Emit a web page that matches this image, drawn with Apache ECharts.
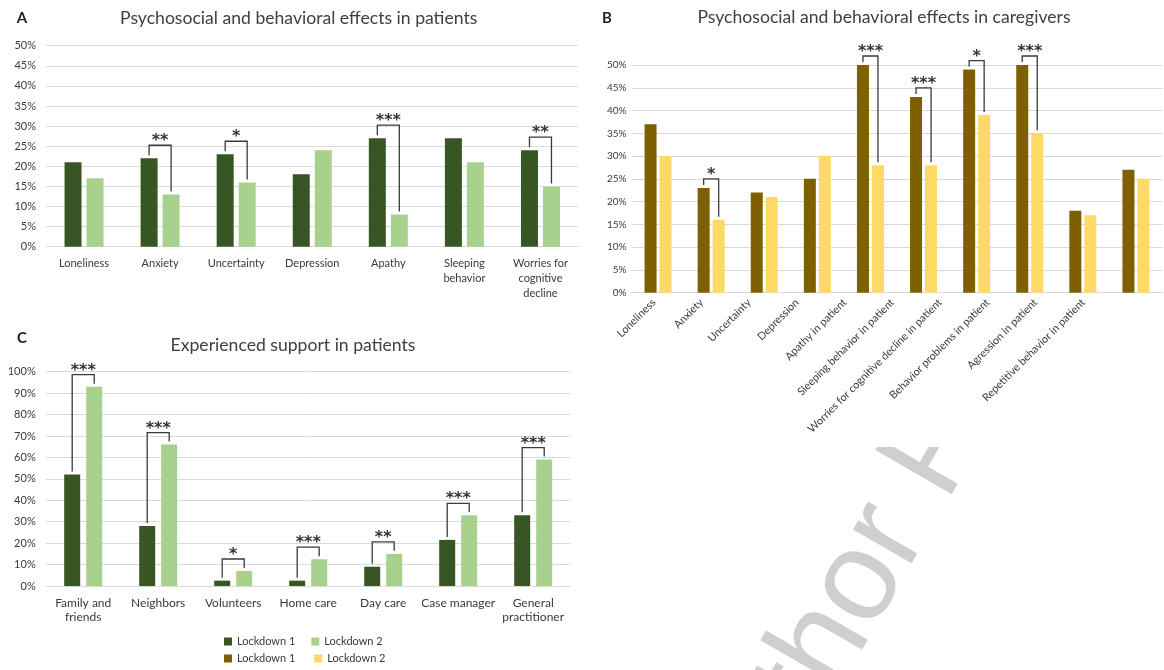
<!DOCTYPE html>
<html>
<head>
<meta charset="utf-8">
<title>Psychosocial effects of lockdown</title>
<script src="https://cdn.jsdelivr.net/npm/echarts@6/dist/echarts.min.js"></script>
<style>
    html, body { margin: 0; padding: 0; background: #fff; }
    #chart { width: 1164px; height: 670px; }
</style>
</head>
<body>
<div id="chart"></div>
<script>
    // panel A - patients
    var catsA = ['Loneliness', 'Anxiety', 'Uncertainty', 'Depression', 'Apathy', 'Sleeping\nbehavior', 'Worries for\ncognitive\ndecline'];
    var a1 = [21, 22, 23, 18, 27, 27, 24];
    var a2 = [17, 13, 16, 24, 8, 21, 15];
    var sigA = ['', '**', '*', '', '***', '', '**'];

    // panel B - caregivers
    var catsB = ['Loneliness', 'Anxiety', 'Uncertainty', 'Depression', 'Apathy in patient', 'Sleeping behavior in patient',
        'Worries for cognitive decline in patient', 'Behavior problems in patient', 'Agression in patient', 'Repetitive behavior in patient'];
    var b1 = [37, 23, 22, 25, 50, 43, 49, 50, 18, 27];
    var b2 = [30, 16, 21, 30, 28, 28, 39, 35, 17, 25];
    var sigB = ['', '*', '', '', '***', '***', '*', '***', '', ''];

    // panel C - support
    var catsC = ['Family and\nfriends', 'Neighbors', 'Volunteers', 'Home care', 'Day care', 'Case manager', 'General\npractitioner'];
    var c1 = [52, 28, 2.5, 2.5, 9, 21.5, 33];
    var c2 = [93, 66, 7, 12.5, 15, 33, 59];
    var sigC = ['***', '***', '*', '***', '**', '***', '***'];

    var titles = ['Psychosocial and behavioral effects in patients', 'Psychosocial and behavioral effects in caregivers', 'Experienced support in patients'];
    var legendNames = ['Lockdown 1', 'Lockdown 2'];

    var FONT = 'Lato, "Open Sans", sans-serif';
    var TXT = '#3a3a3a';
    var GRID = '#d9d9d9';

    function yAxis(idx, max, step, fs, margin) {
        return {
            type: 'value', gridIndex: idx, min: 0, max: max, interval: step,
            axisLine: {show: false}, axisTick: {show: false},
            splitLine: {lineStyle: {color: GRID, width: 1}},
            axisLabel: {formatter: '{value}%', color: TXT, fontSize: fs, fontFamily: FONT, margin: margin}
        };
    }

    function xAxis(idx, cats, label) {
        return {
            type: 'category', gridIndex: idx, data: cats,
            axisLine: {lineStyle: {color: GRID}}, axisTick: {show: false},
            axisLabel: Object.assign({interval: 0, color: TXT, fontFamily: FONT}, label)
        };
    }

    function bars(idx, name, data, color, w, gap) {
        return {
            type: 'bar', name: name, xAxisIndex: idx, yAxisIndex: idx, data: data,
            barWidth: w, barGap: (gap / w * 100) + '%', itemStyle: {color: color}, silent: true
        };
    }

    // significance bracket drawn above each pair that has stars
    function brackets(idx, v1, v2, sig, w, gap, lift) {
        var data = [];
        sig.forEach(function (s, i) {
            if (s) data.push([i, v1[i], v2[i]]);
        });
        return {
            type: 'custom', xAxisIndex: idx, yAxisIndex: idx, data: data, clip: false, silent: true, z: 5,
            encode: {x: 0, y: [1, 2]},
            renderItem: function (params, api) {
                var i = api.value(0);
                var cx = api.coord([i, 0])[0];
                var half = (w + gap) / 2;
                var yl = api.coord([i, api.value(1)])[1];
                var yr = api.coord([i, api.value(2)])[1];
                var yb = Math.min(yl, yr) - lift;
                return {
                    type: 'group', children: [
                        {
                            type: 'polyline',
                            shape: {points: [[cx - half, yl - 3], [cx - half, yb], [cx + half, yb], [cx + half, yr - 3]]},
                            style: {stroke: '#3a3a3a', lineWidth: 1.3, fill: 'none'}
                        },
                        {
                            type: 'text', x: cx, y: yb + 4,
                            style: {text: sig[i], fill: '#333', font: 'bold 16px "DejaVu Sans"', align: 'center', verticalAlign: 'bottom'}
                        }
                    ]
                };
            }
        };
    }

    var myChart = echarts.init(document.getElementById('chart'));
    var option = {
        animation: false,
        grid: [
            {left: 46, right: 585.5, top: 45.7, bottom: 423.3},
            {left: 631.5, right: 1.5, top: 65, bottom: 377.3},
            {left: 45.7, right: 593.3, top: 371.7, bottom: 84},
            // B's slanted labels sit on a slightly narrower scale than its bars
            {left: 630, right: 57, top: 65, bottom: 377.3}
        ],
        xAxis: [
            xAxis(0, catsA, {fontSize: 11, margin: 9, lineHeight: 15}),
            xAxis(1, catsB, {show: false}),
            xAxis(2, catsC, {fontSize: 12, margin: 10, lineHeight: 14}),
            Object.assign(xAxis(3, catsB, {fontSize: 10.8, margin: 8, rotate: 45}), {axisLine: {show: false}})
        ],
        yAxis: [
            yAxis(0, 50, 5, 11, 10),
            yAxis(1, 50, 5, 10, 5),
            yAxis(2, 100, 10, 11, 10),
            {type: 'value', gridIndex: 3, min: 0, max: 50, show: false}
        ],
        legend: [
            {
                data: legendNames, left: 224, top: 636, padding: 0, itemWidth: 8, itemHeight: 8, itemGap: 16,
                icon: 'rect', selectedMode: false, textStyle: {color: TXT, fontSize: 11, fontFamily: FONT}
            },
            {
                data: legendNames.map(function (n) { return n + ' '; }), left: 224, top: 653, padding: 0,
                itemWidth: 8, itemHeight: 8, itemGap: 16, icon: 'rect', selectedMode: false,
                textStyle: {color: TXT, fontSize: 11, fontFamily: FONT}
            }
        ],
        series: [
            bars(0, 'Lockdown 1', a1, '#375623', 17, 5),
            bars(0, 'Lockdown 2', a2, '#A9D18E', 17, 5),
            brackets(0, a1, a2, sigA, 17, 5, 13),
            bars(1, 'Lockdown 1 ', b1, '#7F6000', 12, 3),
            bars(1, 'Lockdown 2 ', b2, '#FFD966', 12, 3),
            brackets(1, b1, b2, sigB, 12, 3, 9),
            bars(2, 'Lockdown 1', c1, '#375623', 16, 6),
            bars(2, 'Lockdown 2', c2, '#A9D18E', 16, 6),
            brackets(2, c1, c2, sigC, 16, 6, 12)
        ],
        graphic: [
            // watermark, partly hidden behind panel B
            {
                type: 'text', x: 709.5, y: 843, rotation: Math.PI / 3, z: -10, silent: true,
                style: {text: 'Author P', fill: '#cfcfcf', font: '128px "Liberation Sans"', align: 'left', verticalAlign: 'middle'}
            },
            {type: 'rect', z: -5, silent: true, shape: {x: 580, y: 0, width: 584, height: 447}, style: {fill: '#fff'}},
            {type: 'text', x: 298.7, y: 18, style: {text: titles[0], fill: '#404040', font: '17.6px ' + FONT, align: 'center', verticalAlign: 'middle'}},
            {type: 'text', x: 884, y: 17, style: {text: titles[1], fill: '#404040', font: '17.6px ' + FONT, align: 'center', verticalAlign: 'middle'}},
            {type: 'text', x: 293, y: 345, style: {text: titles[2], fill: '#404040', font: '17.6px ' + FONT, align: 'center', verticalAlign: 'middle'}},
            {type: 'text', x: 22, y: 18, style: {text: 'A', fill: '#222', font: 'bold 15px ' + FONT, align: 'center', verticalAlign: 'middle'}},
            {type: 'text', x: 607, y: 18, style: {text: 'B', fill: '#222', font: 'bold 15px ' + FONT, align: 'center', verticalAlign: 'middle'}},
            {type: 'text', x: 22, y: 338, style: {text: 'C', fill: '#222', font: 'bold 15px ' + FONT, align: 'center', verticalAlign: 'middle'}}
        ]
    };
    myChart.setOption(option);
</script>
</body>
</html>
